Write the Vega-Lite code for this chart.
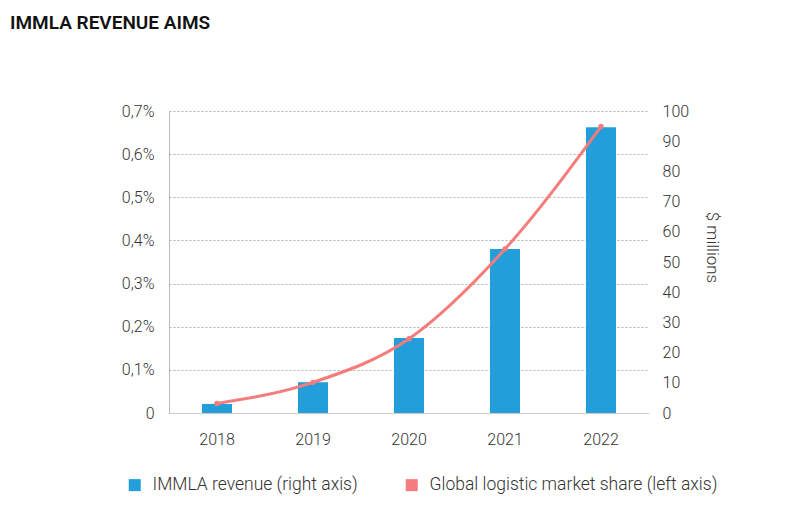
{
  "$schema": "https://vega.github.io/schema/vega-lite/v6.json",
  "autosize": "none",
  "padding": {"left": 169, "top": 111, "right": 149, "bottom": 111},
  "width": 480,
  "height": 302,
  "background": "white",
  "title": {
    "text": "IMMLA REVENUE AIMS",
    "anchor": "start",
    "frame": "group",
    "font": "Roboto",
    "fontSize": 19,
    "fontWeight": 600,
    "color": "#111111",
    "baseline": "alphabetic",
    "dx": -159,
    "offset": 0,
    "dy": -55
  },
  "config": {
    "view": {"stroke": null},
    "font": "Roboto",
    "axis": {
      "labelFont": "Roboto",
      "labelFontSize": 16,
      "labelFontWeight": 300,
      "labelColor": "#333333",
      "titleFont": "Roboto",
      "titleFontSize": 17,
      "titleFontWeight": 300,
      "titleColor": "#333333",
      "ticks": false
    },
    "legend": {
      "labelFont": "Roboto",
      "labelFontSize": 17.5,
      "labelFontWeight": 300,
      "labelColor": "#333333",
      "labelLimit": 0
    }
  },
  "data": {
    "values": [
      {"year": "2018", "revenue": 3.0, "share": 0.022},
      {"year": "2019", "revenue": 10.2, "share": 0.071},
      {"year": "2020", "revenue": 24.8, "share": 0.172},
      {"year": "2021", "revenue": 54.3, "share": 0.380},
      {"year": "2022", "revenue": 94.6, "share": 0.664}
    ]
  },
  "encoding": {
    "x": {
      "field": "year",
      "type": "nominal",
      "scale": {"paddingInner": 0.69, "paddingOuter": 0.345},
      "axis": {
        "title": null,
        "labelAngle": 0,
        "labelPadding": 18,
        "domain": true,
        "domainColor": "#cccccc",
        "domainWidth": 1,
        "grid": false
      }
    }
  },
  "layer": [
    {
      "mark": {"type": "bar", "width": 30},
      "encoding": {
        "y": {
          "field": "revenue",
          "type": "quantitative",
          "scale": {"domain": [0, 100], "nice": false},
          "axis": {
            "orient": "right",
            "title": "$ millions",
            "values": [0, 10, 20, 30, 40, 50, 60, 70, 80, 90, 100],
            "grid": false,
            "domain": false,
            "labelPadding": 13,
            "titleAngle": 90,
            "titlePadding": 14,
            "titleY": 136
          }
        },
        "color": {
          "datum": "IMMLA revenue (right axis)",
          "type": "nominal",
          "scale": {
            "domain": ["IMMLA revenue (right axis)", "Global logistic market share (left axis)"],
            "range": ["#229fda", "#f47c7c"]
          },
          "legend": {
            "title": null,
            "orient": "none",
            "direction": "horizontal",
            "legendX": -43,
            "legendY": 365,
            "padding": 0,
            "symbolType": "square",
            "symbolSize": 144,
            "symbolStrokeWidth": 0,
            "labelOffset": 9,
            "columnPadding": 45,
            "labelLimit": 0
          }
        }
      }
    },
    {
      "mark": {"type": "line", "interpolate": "monotone", "strokeWidth": 3, "point": {"filled": true, "size": 30}},
      "encoding": {
        "y": {
          "field": "share",
          "type": "quantitative",
          "scale": {"domain": [0, 0.7], "nice": false},
          "axis": {
            "orient": "left",
            "title": null,
            "values": [0, 0.1, 0.2, 0.3, 0.4, 0.5, 0.6, 0.7],
            "labelExpr": "datum.value == 0 ? '0' : replace(format(datum.value, '.1f'), '.', ',') + '%'",
            "grid": true,
            "gridColor": "#b0b0b0",
            "gridDash": [2, 2],
            "gridWidth": 1,
            "domain": true,
            "domainColor": "#bbbbbb",
            "labelPadding": 15
          }
        },
        "color": {
          "datum": "Global logistic market share (left axis)",
          "type": "nominal"
        }
      }
    }
  ],
  "resolve": {"scale": {"y": "independent"}}
}
